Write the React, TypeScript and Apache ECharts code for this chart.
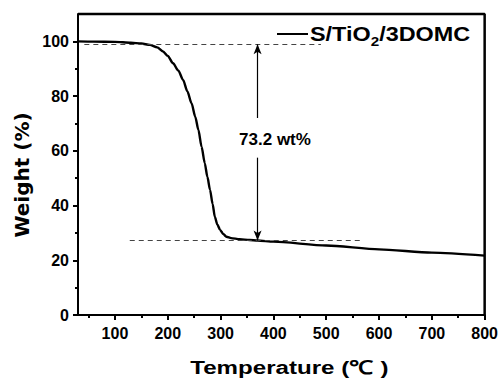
import React, { useEffect, useRef } from 'react';
import * as echarts from 'echarts';

// TGA curve of S/TiO2/3DOMC (temperature in °C, weight in %)
const temperature = [30, 60, 100, 130, 150, 166, 180, 191, 200, 210, 220, 229, 237, 245, 252, 258, 264, 270, 275, 280, 285, 289, 294, 299, 305, 311, 320, 336, 355, 370, 400, 500, 600, 700, 800];
const weight = [100.0, 99.9, 99.8, 99.5, 99.2, 98.7, 97.8, 96.3, 94.7, 92.0, 89.3, 85.9, 81.8, 77.4, 72.5, 67.6, 61.5, 55.5, 50.5, 45.7, 40.5, 35.9, 33.0, 31.1, 29.6, 28.6, 28.1, 27.7, 27.4, 27.2, 26.8, 25.4, 24.0, 22.8, 21.7];

const xRange = [30, 800];
const yRange = [0, 110];
const xMajorTicks = [100, 200, 300, 400, 500, 600, 700, 800];
const xMinorTicks = [50, 150, 250, 350, 450, 550, 650, 750];
const yMajorTicks = [0, 20, 40, 60, 80, 100];
const yMinorTicks = [10, 30, 50, 70, 90];

// annotation values
const upperLevel = 98.9;
const lowerLevel = 27.2;
const upperDashRange = [42, 490];
const lowerDashRange = [128, 570];
const arrowX = 370;
const arrowBreak = [72, 57.5];
const annotationText = '73.2 wt%';
const annotationAt = [403, 64];
const legendParts = ['S/TiO', '2', '/3DOMC'];
const xTitle = 'Temperature (℃ )';
const yTitle = 'Weight (%)';

const FONT = '"Liberation Sans", Arial, Helvetica, sans-serif';

export default function App() {
  const ref = useRef<HTMLDivElement>(null);
  useEffect(() => {
    if (!ref.current) return;
    const chart = echarts.init(ref.current, null, { renderer: 'svg' });

    const canvas = document.createElement('canvas');
    const ctx = canvas.getContext('2d')!;
    const measure = (t: string, size: number) => {
      ctx.font = `bold ${size}px ${FONT}`;
      return ctx.measureText(t).width;
    };
    const w1 = measure(legendParts[0], 20);
    const w2 = measure(legendParts[1], 13);

    const dashStyle = { type: [5, 4] as any, color: '#444', width: 1 };
    const arrowStyle = { type: 'solid' as any, color: '#000', width: 1.2 };

    chart.setOption({
      animation: false,
      backgroundColor: '#fff',
      grid: { left: 78, top: 14, right: 15, bottom: 66 },
      xAxis: [
        {
          type: 'value', min: xRange[0], max: xRange[1], position: 'bottom',
          axisLine: { show: true, onZero: false, lineStyle: { color: '#000', width: 2 } },
          axisTick: { show: true, inside: false, length: 5, lineStyle: { color: '#000', width: 2 }, customValues: xMajorTicks },
          axisLabel: { show: true, customValues: xMajorTicks, margin: 10, fontFamily: FONT, fontWeight: 'bold', fontSize: 16, color: '#000' },
          splitLine: { show: false },
        },
        {
          type: 'value', min: xRange[0], max: xRange[1], position: 'bottom',
          axisLine: { show: false, onZero: false },
          axisTick: { show: true, inside: false, length: 3, lineStyle: { color: '#000', width: 2 }, customValues: xMinorTicks },
          axisLabel: { show: false },
          splitLine: { show: false },
        },
      ],
      yAxis: [
        {
          type: 'value', min: yRange[0], max: yRange[1], position: 'left',
          axisLine: { show: true, onZero: false, lineStyle: { color: '#000', width: 2 } },
          axisTick: { show: true, inside: false, length: 5, lineStyle: { color: '#000', width: 2 }, customValues: yMajorTicks },
          axisLabel: { show: true, customValues: yMajorTicks, margin: 9, fontFamily: FONT, fontWeight: 'bold', fontSize: 16, color: '#000' },
          splitLine: { show: false },
        },
        {
          type: 'value', min: yRange[0], max: yRange[1], position: 'left',
          axisLine: { show: false, onZero: false },
          axisTick: { show: true, inside: false, length: 3, lineStyle: { color: '#000', width: 2 }, customValues: yMinorTicks },
          axisLabel: { show: false },
          splitLine: { show: false },
        },
      ],
      series: [
        {
          type: 'line',
          name: 'frame',
          xAxisIndex: 0, yAxisIndex: 0,
          data: [[xRange[0], yRange[1]], [xRange[1], yRange[1]], [xRange[1], yRange[0]]],
          showSymbol: false, clip: false, silent: true, z: 5,
          lineStyle: { color: '#000', width: 2.5 },
        },
        {
          type: 'line',
          name: 'S/TiO2/3DOMC',
          xAxisIndex: 0, yAxisIndex: 0,
          data: temperature.map((t, i) => [t, weight[i]]),
          showSymbol: false,
          smooth: 0.25,
          smoothMonotone: 'x',
          lineStyle: { color: '#000', width: 2.4 },
          markLine: {
            silent: true,
            symbol: 'none',
            label: { show: false },
            data: [
              [{ coord: [upperDashRange[0], upperLevel], lineStyle: dashStyle }, { coord: [upperDashRange[1], upperLevel] }],
              [{ coord: [lowerDashRange[0], lowerLevel], lineStyle: dashStyle }, { coord: [lowerDashRange[1], lowerLevel] }],
              [{ coord: [arrowX, upperLevel], symbol: 'arrow', symbolSize: [6, 10], lineStyle: arrowStyle }, { coord: [arrowX, arrowBreak[0]], symbol: 'none' }],
              [{ coord: [arrowX, arrowBreak[1]], symbol: 'none', lineStyle: arrowStyle }, { coord: [arrowX, lowerLevel], symbol: 'arrow', symbolSize: [6, 10] }],
            ],
          },
          markPoint: {
            silent: true,
            symbol: 'circle',
            symbolSize: 0,
            data: [{ coord: annotationAt, value: annotationText }],
            label: {
              show: true, position: 'inside', formatter: annotationText,
              fontFamily: FONT, fontWeight: 'bold', fontSize: 17, color: '#000',
            },
          },
        },
      ],
    });

    const tl = chart.convertToPixel({ gridIndex: 0 }, [xRange[0], yRange[1]]) as number[];
    const br = chart.convertToPixel({ gridIndex: 0 }, [xRange[1], yRange[0]]) as number[];

    chart.setOption({
      graphic: [
        {
          type: 'group', x: 277, y: 34, silent: true,
          children: [
            { type: 'line', shape: { x1: 0, y1: 0, x2: 31, y2: 0 }, style: { stroke: '#000', lineWidth: 2 } },
            {
              type: 'group', x: 33, y: 0, scaleX: 1.17,
              children: [
                { type: 'text', x: 0, y: 0, style: { text: legendParts[0], font: `bold 20px ${FONT}`, fill: '#000', verticalAlign: 'middle' } },
                { type: 'text', x: w1, y: 7, style: { text: legendParts[1], font: `bold 13px ${FONT}`, fill: '#000', verticalAlign: 'middle' } },
                { type: 'text', x: w1 + w2, y: 0, style: { text: legendParts[2], font: `bold 20px ${FONT}`, fill: '#000', verticalAlign: 'middle' } },
              ],
            },
          ],
        },
        {
          type: 'text', x: (tl[0] + br[0]) / 2 + 8, y: 367, scaleX: 1.27, silent: true,
          style: { text: xTitle, font: `bold 19px ${FONT}`, fill: '#000', align: 'center', verticalAlign: 'middle' },
        },
        {
          type: 'text', x: 22, y: 175, rotation: Math.PI / 2, silent: true,
          style: { text: yTitle, font: `bold 20px "DejaVu Sans", ${FONT}`, fill: '#000', align: 'center', verticalAlign: 'middle' },
        },
      ],
    });
    return () => chart.dispose();
  }, []);
  return <div ref={ref} style={{ position: 'absolute', left: 0, top: 0, width: 501, height: 381 }} />;
}
